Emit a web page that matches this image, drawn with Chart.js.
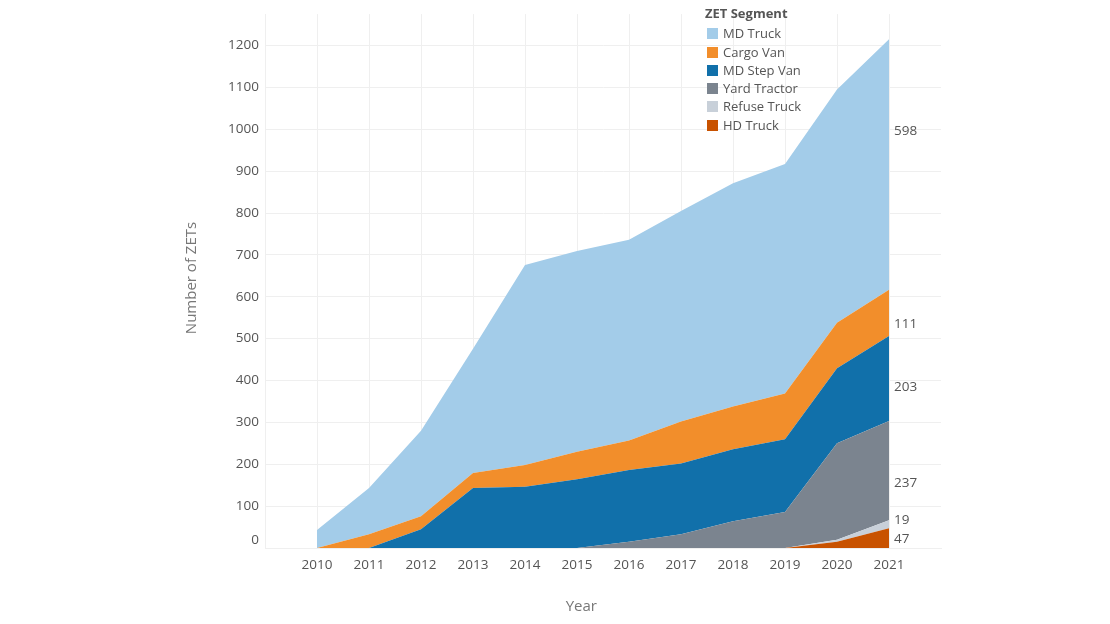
<!DOCTYPE html>
<html>
<head>
<meta charset="utf-8">
<script src="https://cdn.jsdelivr.net/npm/chart.js@4.4.1/dist/chart.umd.min.js"></script>
<style>
  html, body { margin: 0; padding: 0; background: #fff; }
  #wrap { position: relative; width: 1110px; height: 624px; }
  #legend { position: absolute; left: 705px; top: 4px; font-family: "Open Sans", sans-serif; font-size: 13px; color: #555; line-height: 18.3px; }
  #legend .ttl { font-weight: bold; margin-bottom: 2px; }
  #legend .sw { display: inline-block; width: 11px; height: 11px; margin: 0 5px 0 2px; vertical-align: -1px; }
</style>
</head>
<body>
<div id="wrap">
  <canvas id="chartZet"></canvas>
  <div id="legend"></div>
</div>
<script>
// Dados
const years = [2010, 2011, 2012, 2013, 2014, 2015, 2016, 2017, 2018, 2019, 2020, 2021];
const hdTruck     = [0, 0, 0, 0, 0, 0, 0, 0, 0, 0, 15, 47];
const refuseTruck = [0, 0, 0, 0, 0, 0, 0, 0, 0, 0, 5, 19];
const yardTractor = [0, 0, 0, 0, 0, 0, 15, 33, 64, 86, 230, 237];
const mdStepVan   = [0, 0, 45, 143, 146, 164, 171, 169, 172, 174, 179, 203];
const cargoVan    = [0, 33, 31, 36, 52, 66, 71, 100, 102, 109, 109, 111];
const mdTruck     = [43, 110, 204, 297, 478, 479, 479, 503, 533, 548, 557, 598];
const yTicks = [0, 100, 200, 300, 400, 500, 600, 700, 800, 900, 1000, 1100, 1200];

// séries empilhadas de baixo para cima
const series = [
  { label: 'HD Truck',     data: hdTruck,     color: '#c85200', dy: 1 },
  { label: 'Refuse Truck', data: refuseTruck, color: '#c8d0d9', dy: -4 },
  { label: 'Yard Tractor', data: yardTractor, color: '#7b848f', dy: 12 },
  { label: 'MD Step Van',  data: mdStepVan,   color: '#1170aa', dy: 9 },
  { label: 'Cargo Van',    data: cargoVan,    color: '#f28e2b', dy: 11 },
  { label: 'MD Truck',     data: mdTruck,     color: '#a3cce9', dy: -33 }
];

const FONT = '"Open Sans", sans-serif';
const GRID = '#efefef';

// legenda (ordem invertida)
const legendEl = document.getElementById('legend');
let html = '<div class="ttl">ZET Segment</div>';
series.slice().reverse().forEach(s => {
  html += '<div><span class="sw" style="background:' + s.color + '"></span>' + s.label + '</div>';
});
legendEl.innerHTML = html;

// rótulos finais, títulos dos eixos e o "0"
const extras = {
  id: 'extras',
  afterDatasetsDraw(chart) {
    const c = chart.ctx, xs = chart.scales.x, ys = chart.scales.y, area = chart.chartArea;
    const last = years.length - 1;
    c.save();
    c.font = '13.5px ' + FONT;
    c.fillStyle = '#555';
    c.textBaseline = 'middle';
    c.textAlign = 'left';
    let base = 0;
    series.forEach(s => {
      const v = s.data[last];
      const mid = base + v / 2;
      base += v;
      c.fillText(String(v), xs.getPixelForValue(years[last]) + 5, ys.getPixelForValue(mid) + s.dy);
    });
    // "0" deslocado para cima como no original
    c.textAlign = 'right';
    c.fillText('0', area.left - 6, ys.getPixelForValue(0) - 8);
    // títulos
    c.font = '15px ' + FONT;
    c.fillStyle = '#777';
    c.textAlign = 'center';
    c.fillText('Year', area.left + (area.right - area.left) * 0.468, 607);
    c.translate(192, 278);
    c.rotate(-Math.PI / 2);
    c.fillText('Number of ZETs', 0, 0);
    c.restore();
  }
};

const ctxZet = document.getElementById('chartZet').getContext('2d');
new Chart(ctxZet, {
  type: 'line',
  data: {
    datasets: series.map((s, i) => ({
      label: s.label,
      data: years.map((yr, j) => ({ x: yr, y: s.data[j] })),
      backgroundColor: s.color,
      borderColor: s.color,
      borderWidth: 0,
      pointRadius: 0,
      tension: 0,
      fill: i === 0 ? 'origin' : '-1'
    }))
  },
  options: {
    responsive: true,
    maintainAspectRatio: false,
    animation: false,
    layout: { padding: { left: 0, right: 169, top: 13, bottom: 0 } },
    plugins: {
      legend: { display: false },
      tooltip: { enabled: false }
    },
    scales: {
      x: {
        type: 'linear',
        min: 2009,
        max: 2022,
        afterFit: s => { s.height = 76; },
        ticks: {
          stepSize: 1,
          padding: 9,
          color: '#555',
          font: { family: FONT, size: 13.5 },
          maxRotation: 0,
          callback: v => (v < 2010 || v > 2021) ? '' : String(v)
        },
        grid: {
          drawTicks: false,
          color: ctx => (ctx.tick && ctx.tick.value > 2021) ? 'rgba(0,0,0,0)' : GRID
        },
        border: { color: GRID }
      },
      y: {
        stacked: true,
        min: 0,
        max: 1275,
        afterFit: s => { s.width = 265; },
        afterBuildTicks: s => { s.ticks = yTicks.map(v => ({ value: v })); },
        ticks: {
          padding: 6,
          color: '#555',
          font: { family: FONT, size: 13.5 },
          callback: v => v === 0 ? '' : String(v)
        },
        grid: { drawTicks: false, color: GRID },
        border: { color: GRID }
      }
    }
  },
  plugins: [extras]
});
</script>
</body>
</html>
